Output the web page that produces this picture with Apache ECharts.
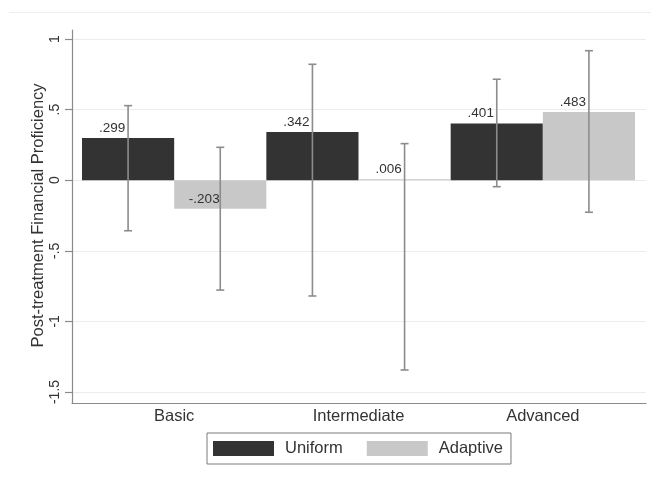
<!DOCTYPE html>
<html>
<head>
<meta charset="utf-8">
<script src="https://cdn.jsdelivr.net/npm/echarts@6/dist/echarts.min.js"></script>
<style>html,body{margin:0;padding:0;background:#fff}#c{width:651px;height:479px}</style>
</head>
<body>
<div id="c"></div>
<script>
const categories = ['Basic', 'Intermediate', 'Advanced'];
const uniformMean = [0.299, 0.342, 0.401];
const adaptiveMean = [-0.203, 0.006, 0.483];
const uniformLow = [-0.358, -0.820, -0.046];
const uniformHigh = [0.528, 0.821, 0.715];
const adaptiveLow = [-0.778, -1.344, -0.227];
const adaptiveHigh = [0.233, 0.259, 0.917];
const yTickLabels = ['-1.5', '-1', '-.5', '0', '.5', '1'];
const yMin = -1.5, yMax = 1, yStep = 0.5;

const FONT = 'Liberation Sans, Arial, sans-serif';
const fmt = v => v.toFixed(3).replace('0.', '.');

function errData(low, high) { return low.map((l, i) => [i, l, high[i]]); }
function lblData(mean) { return mean.map((m, i) => [i, m]); }

function errRender(sign) {
  return function (params, api) {
    const idx = api.value(0);
    const band = api.size([1, 0])[0];
    const x = api.coord([idx, 0])[0] + sign * band / 4;
    const y1 = api.coord([idx, api.value(1)])[1];
    const y2 = api.coord([idx, api.value(2)])[1];
    const st = { stroke: '#8c8c8c', lineWidth: 1.6 };
    return { type: 'group', children: [
      { type: 'line', shape: { x1: x, y1: y1, x2: x, y2: y2 }, style: st },
      { type: 'line', shape: { x1: x - 4, y1: y1, x2: x + 4, y2: y1 }, style: st },
      { type: 'line', shape: { x1: x - 4, y1: y2, x2: x + 4, y2: y2 }, style: st }
    ]};
  };
}
function lblRender(sign) {
  return function (params, api) {
    const idx = api.value(0);
    const v = api.value(1);
    const band = api.size([1, 0])[0];
    const p = api.coord([idx, v]);
    return { type: 'text', x: p[0] + sign * band / 4 - 16, y: p[1] - 10,
      style: { text: fmt(v), fill: '#333', font: '13.5px ' + FONT, align: 'center', verticalAlign: 'middle' } };
  };
}

const chart = echarts.init(document.getElementById('c'));
chart.setOption({
  animation: false,
  backgroundColor: '#fff',
  textStyle: { fontFamily: FONT },
  graphic: [{ type: 'line', shape: { x1: 9, y1: 12.5, x2: 651, y2: 12.5 }, style: { stroke: '#ededed', lineWidth: 1 }, silent: true }],
  grid: [
    { left: 72, right: 5, top: 30, bottom: 76 },
    { left: 72, right: 5, top: 39, bottom: 87 },
    { left: 82, right: 16, top: 39, bottom: 87 }
  ],
  xAxis: [
    { type: 'value', gridIndex: 0, min: 0, max: 1, axisLine: { show: true, onZero: false, lineStyle: { color: '#8a8a8a', width: 1.2 } }, axisTick: { show: false }, axisLabel: { show: false }, splitLine: { show: false } },
    { type: 'value', gridIndex: 1, min: 0, max: 1, show: false },
    { type: 'category', gridIndex: 2, data: categories, boundaryGap: true,
      axisLine: { show: false }, axisTick: { show: false },
      axisLabel: { margin: 16, fontSize: 16.5, color: '#333', fontFamily: FONT } }
  ],
  yAxis: [
    { type: 'value', gridIndex: 0, min: 0, max: 1, axisLine: { show: true, onZero: false, lineStyle: { color: '#8a8a8a', width: 1.2 } }, axisTick: { show: false }, axisLabel: { show: false }, splitLine: { show: false } },
    { type: 'value', gridIndex: 1, min: yMin, max: yMax, interval: yStep,
      axisLine: { show: false },
      axisTick: { show: true, length: 7, lineStyle: { color: '#8a8a8a', width: 1.2 } },
      axisLabel: { rotate: 90, margin: 10, fontSize: 14, color: '#333', fontFamily: FONT,
        formatter: v => yTickLabels[Math.round((v - yMin) / yStep)] },
      splitLine: { show: true, lineStyle: { color: '#ececec', width: 1 } },
      name: 'Post-treatment Financial Proficiency', nameLocation: 'middle', nameRotate: 90, nameGap: 25,
      nameMoveOverlap: false,
      nameTextStyle: { fontSize: 16.5, color: '#333', fontFamily: FONT } },
    { type: 'value', gridIndex: 2, min: yMin, max: yMax, interval: yStep, show: false }
  ],
  legend: {
    data: ['Uniform', 'Adaptive'], left: 207, top: 433, orient: 'horizontal',
    icon: 'rect', itemWidth: 61, itemHeight: 15, itemGap: 24,
    padding: [7, 8, 7, 6], borderColor: '#7a7a7a', borderWidth: 1, borderRadius: 0,
    textStyle: { fontSize: 16.5, color: '#333', fontFamily: FONT, padding: [0, 0, 0, 6] }
  },
  series: [
    { name: 'Uniform', type: 'bar', xAxisIndex: 2, yAxisIndex: 2, data: uniformMean,
      barGap: '0%', barCategoryGap: '0%', itemStyle: { color: '#333333' } },
    { name: 'Adaptive', type: 'bar', xAxisIndex: 2, yAxisIndex: 2, data: adaptiveMean,
      barGap: '0%', barCategoryGap: '0%', itemStyle: { color: '#c8c8c8' } },
    { name: 'uErr', type: 'custom', xAxisIndex: 2, yAxisIndex: 2, data: errData(uniformLow, uniformHigh), renderItem: errRender(-1), z: 5 },
    { name: 'aErr', type: 'custom', xAxisIndex: 2, yAxisIndex: 2, data: errData(adaptiveLow, adaptiveHigh), renderItem: errRender(1), z: 5 },
    { name: 'uLbl', type: 'custom', xAxisIndex: 2, yAxisIndex: 2, data: lblData(uniformMean), renderItem: lblRender(-1), z: 6 },
    { name: 'aLbl', type: 'custom', xAxisIndex: 2, yAxisIndex: 2, data: lblData(adaptiveMean), renderItem: lblRender(1), z: 6 }
  ]
});
</script>
</body>
</html>
